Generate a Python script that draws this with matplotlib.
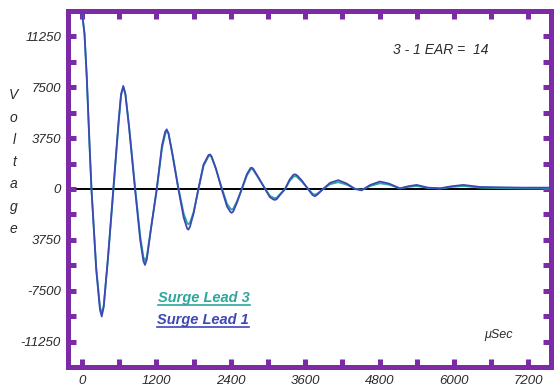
import matplotlib.pyplot as plt
from matplotlib.ticker import MultipleLocator, FixedLocator

# Время, мкс (общая шкала для обоих выводов)
time_us = [0, 40, 76, 120, 153, 230, 290, 318, 350, 420, 505, 590, 630, 666, 700, 760,
           855, 940, 990, 1016, 1045, 1110, 1205, 1290, 1340, 1366, 1395, 1460, 1554,
           1640, 1695, 1715, 1740, 1800, 1876, 1960, 2040, 2065, 2090, 2160, 2253, 2340,
           2395, 2414, 2440, 2500, 2576, 2660, 2720, 2737, 2760, 2840, 2952, 3030, 3090,
           3113, 3140, 3200, 3274, 3350, 3410, 3436, 3470, 3550, 3645, 3720, 3758, 3800,
           3888, 4000, 4134, 4270, 4404, 4511, 4650, 4807, 4950, 5129, 5260, 5398, 5580,
           5775, 5960, 6150, 6420, 6800, 7100, 7565]

lead1 = [13000, 11500, 8400, 3500, 0, -6000, -8900, -9400, -8700, -5000, 0, 5000, 7000,
         7600, 7000, 4500, 0, -3800, -5300, -5600, -5200, -3000, 0, 3200, 4200, 4400,
         4100, 2500, 0, -2100, -2900, -3000, -2800, -1800, 0, 1800, 2500, 2550, 2400,
         1500, 0, -1300, -1700, -1760, -1650, -1000, 0, 1100, 1550, 1570, 1500, 900, 0,
         -600, -780, -800, -750, -400, 0, 700, 1050, 1080, 1000, 600, 0, -450, -530,
         -400, 0, 450, 650, 400, 0, -100, 300, 550, 400, 50, 200, 300, 100, 50, 200,
         300, 150, 120, 100, 100]

lead3 = [13000, 11400, 8200, 3300, -100, -5800, -8700, -9200, -8600, -5100, -200, 4800,
         6900, 7500, 7000, 4600, 200, -3500, -5000, -5300, -5000, -3000, -100, 3000,
         4000, 4300, 4100, 2600, 100, -1800, -2500, -2600, -2500, -1700, -100, 1700,
         2400, 2480, 2350, 1500, 100, -1100, -1450, -1520, -1450, -900, -50, 1000, 1450,
         1480, 1420, 850, 50, -500, -650, -680, -640, -350, -30, 600, 900, 950, 880,
         520, 30, -350, -420, -320, -20, 350, 500, 320, 20, -60, 220, 420, 320, 40, 150,
         220, 80, 30, 150, 220, 100, 60, 40, 30]

x_ticks = [0, 1200, 2400, 3600, 4800, 6000, 7200]
y_ticks = [11250, 7500, 3750, 0, -3750, -7500, -11250]
y_labels = ['11250', '7500', '3750', '0', '3750', '-7500', '-11250']

PURPLE = '#7d2aa6'
TEAL = '#2ba79c'
BLUE = '#3d48b4'
TXT = '#2a2a2a'

plt.rcParams['font.family'] = ['Liberation Sans', 'DejaVu Sans']

fig = plt.figure(figsize=(5.55, 3.89), dpi=100)
ax = fig.add_axes([0.1225, 0.0566, 0.8703, 0.9151])

ax.axhline(0, color='black', lw=1.4, zorder=1)
ax.plot(time_us, lead3, color=TEAL, lw=1.3, zorder=2)
ax.plot(time_us, lead1, color=BLUE, lw=1.3, zorder=3)

ax.set_xlim(-226, 7565)
ax.set_ylim(-13125, 13125)

for s in ax.spines.values():
    s.set_color(PURPLE)
    s.set_linewidth(3.6)

ax.xaxis.set_major_locator(FixedLocator(x_ticks))
ax.xaxis.set_minor_locator(MultipleLocator(600))
ax.yaxis.set_major_locator(FixedLocator(y_ticks))
ax.yaxis.set_minor_locator(MultipleLocator(1875))
ax.set_xticklabels([str(v) for v in x_ticks])
ax.set_yticklabels(y_labels)
ax.tick_params(which='both', direction='in', color=PURPLE, width=3.6, length=6,
               top=True, right=True, labelsize=9.5, labelcolor=TXT)
ax.tick_params(axis='x', pad=6)
ax.tick_params(axis='y', pad=5)
for lab in ax.get_xticklabels() + ax.get_yticklabels():
    lab.set_fontstyle('italic')

fig.text(0.025, 0.583, 'V\no\nl\nt\na\ng\ne', ha='center', va='center',
         fontsize=10, fontstyle='italic', color=TXT, linespacing=1.75)

ax.text(0.772, 0.89, '3 - 1 EAR =  14', transform=ax.transAxes, ha='center',
        va='center', fontsize=10, fontstyle='italic', color=TXT)
ax.text(0.892, 0.09, 'μSec', transform=ax.transAxes, ha='center', va='center',
        fontsize=9, fontstyle='italic', color=TXT)

# подписи с подчёркиванием вместо легенды
leg3 = ax.text(0.186, 0.193, 'Surge Lead 3', transform=ax.transAxes, ha='left',
               va='center', fontsize=10.5, fontstyle='italic', fontweight='bold', color=TEAL)
leg1 = ax.text(0.184, 0.131, 'Surge Lead 1', transform=ax.transAxes, ha='left',
               va='center', fontsize=10.5, fontstyle='italic', fontweight='bold', color=BLUE)
fig.canvas.draw()
inv = ax.transAxes.inverted()
for t, c in ((leg3, TEAL), (leg1, BLUE)):
    bb = t.get_window_extent()
    (x0, y0), (x1, _) = inv.transform([(bb.x0, bb.y0), (bb.x1, bb.y1)])
    ax.plot([x0, x1], [y0 + 0.002, y0 + 0.002], transform=ax.transAxes, color=c, lw=1.2)

plt.savefig('out.png', dpi=100)
